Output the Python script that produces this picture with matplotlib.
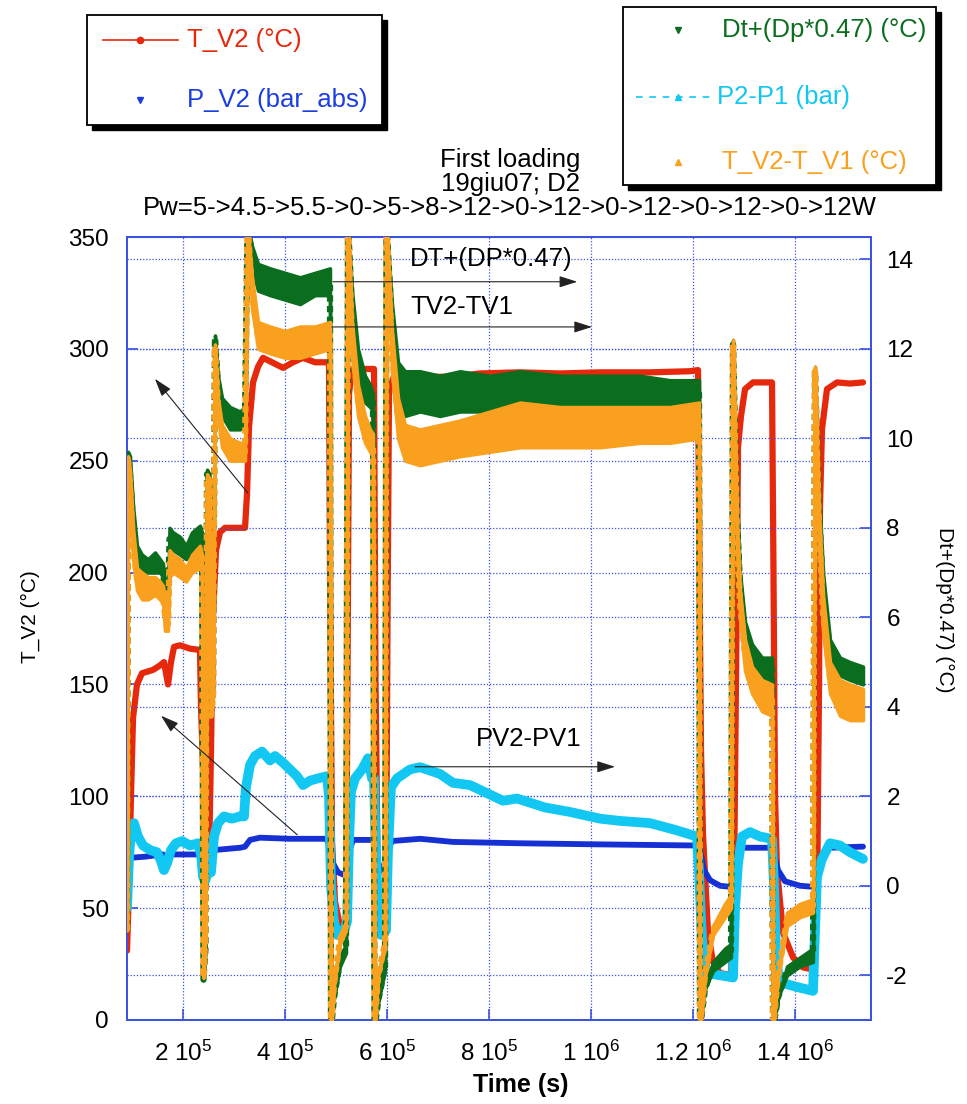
import numpy as np
import matplotlib
matplotlib.use("Agg")
import matplotlib.pyplot as plt
from matplotlib.lines import Line2D
from matplotlib.patches import Rectangle

plt.rcParams["font.family"] = ["Liberation Sans", "DejaVu Sans"]
plt.rcParams["mathtext.fontset"] = "custom"
plt.rcParams["mathtext.rm"] = "Liberation Sans"
plt.rcParams["mathtext.it"] = "Liberation Sans:italic"
plt.rcParams["axes.unicode_minus"] = False

# ── colours ───────────────────────────────────────────────────────────────────
C_RED    = "#e6280c"
C_BLUE   = "#1630d4"
C_GREEN  = "#0b6e1f"
C_CYAN   = "#12c8f2"
C_ORANGE = "#f9a11f"
C_GRID   = "#3c52e0"

FS = 18.5  # text size for titles, legend, notes

# ── data (time in 1e5 s) ──────────────────────────────────────────────────────
# T_V2 (°C), left axis
t_red = [0.902, 0.941, 0.980, 1.020, 1.098, 1.196, 1.412, 1.549, 1.627, 1.667,
         1.706, 1.765, 1.824, 1.941, 2.137, 2.333, 2.353, 2.412, 2.471, 2.510,
         2.549, 2.588, 2.647, 2.725, 2.824, 3.216, 3.255, 3.294, 3.373, 3.471,
         3.569, 3.745, 3.961, 4.157, 4.353, 4.588, 4.863, 4.882, 4.922, 4.980,
         5.078, 5.196, 5.225, 5.255, 5.314, 5.745, 5.775, 5.824, 5.902, 5.980,
         6.010, 6.039, 6.157, 6.314, 6.843, 7.294, 7.824, 8.608, 9.392, 10.176,
         11.157, 11.941, 12.098, 12.127, 12.157, 12.196, 12.294, 12.392, 12.529, 12.745,
         12.804, 12.863, 12.882, 12.941, 13.020, 13.176, 13.549, 13.578, 13.608, 13.647,
         13.765, 13.961, 14.157, 14.373, 14.431, 14.471, 14.490, 14.529, 14.627, 14.824,
         15.078, 15.333]
T_V2 = [31, 60, 100, 135, 150, 155, 156.5, 158.5, 160, 155,
        150, 160, 166.8, 167.5, 166, 165.4, 140, 100, 72, 72,
        120, 180, 210, 218, 220, 220, 235, 265, 285, 292,
        296, 294, 291.5, 294, 296, 294, 294, 200, 80, 53,
        42, 40, 150, 280, 291, 291, 150, 55, 45, 44,
        180, 280, 289.5, 289, 287.5, 287.5, 289, 289.5, 289, 289.5,
        289.5, 290, 290.5, 200, 120, 83, 39, 26, 21, 20,
        60, 200, 256, 270, 282, 285, 285, 200, 100, 67,
        39, 28, 23.5, 22.5, 50, 150, 230, 264, 282, 285,
        284.5, 285]

# P_V2 (bar_abs), left axis
t_blue = [0.902, 0.961, 1.255, 1.608, 1.686, 1.784, 2.333, 2.412, 2.471, 2.549,
          2.627, 3.118, 3.216, 3.314, 3.510, 4.098, 4.804, 4.882, 4.941, 5.039,
          5.196, 5.255, 5.333, 5.745, 5.804, 5.882, 5.980, 6.020, 6.098, 6.647,
          7.294, 8.608, 10.176, 12.078, 12.137, 12.216, 12.333, 12.529, 12.745, 12.804,
          12.863, 12.961, 13.549, 13.588, 13.667, 13.804, 14.098, 14.373, 14.431, 14.529,
          14.686, 15.333]
P_V2 = [60, 72.5, 73, 74, 72, 74, 74, 73, 68, 70,
        76, 77, 77.5, 80.5, 81.5, 81, 81, 78, 70, 66,
        64.5, 75, 80.5, 80.5, 72, 67, 66, 76, 80, 81,
        79.6, 79, 78.5, 78, 76, 67, 62.5, 60, 59.5, 66,
        73, 77, 77, 74, 67, 62, 60, 59.5, 67, 74,
        77, 77.5]

# P2-P1 (bar), right axis
t_cyan = [0.902, 0.941, 0.980, 1.039, 1.118, 1.216, 1.353, 1.490, 1.569, 1.627,
          1.686, 1.765, 1.863, 1.980, 2.137, 2.294, 2.353, 2.392, 2.431, 2.490,
          2.549, 2.608, 2.686, 2.804, 2.961, 3.118, 3.196, 3.235, 3.314, 3.412,
          3.549, 3.706, 3.804, 3.961, 4.098, 4.235, 4.353, 4.490, 4.647, 4.824,
          4.863, 4.902, 4.961, 5.020, 5.176, 5.216, 5.255, 5.294, 5.373, 5.510,
          5.627, 5.706, 5.745, 5.775, 5.824, 5.882, 5.980, 6.020, 6.078, 6.196,
          6.451, 6.647, 7.039, 7.294, 7.627, 8.275, 8.549, 9.098, 9.588, 10.176,
          10.569, 11.157, 11.647, 12.078, 12.118, 12.176, 12.255, 12.529, 12.784, 12.824,
          12.882, 12.961, 13.118, 13.314, 13.549, 13.588, 13.627, 13.686, 14.000, 14.353,
          14.392, 14.431, 14.529, 14.686, 14.882, 15.078, 15.333]
P2_P1 = [-0.5, 0.6, 1.25, 1.4, 1.1, 0.9, 0.8, 0.75, 0.55, 0.35,
         0.5, 0.8, 0.95, 1.0, 0.9, 0.95, 0.7, 0.2, 0.1, 0.3,
         0.3, 1.1, 1.4, 1.55, 1.5, 1.55, 1.55, 2.2, 2.7, 2.9,
         3.0, 2.8, 2.9, 2.75, 2.6, 2.45, 2.25, 2.35, 2.4, 2.45,
         2.0, 0.0, -0.8, -1.1, -0.95, -0.8, 1.0, 2.1, 2.4, 2.6,
         2.85, 2.4, 2.4, 1.0, -0.5, -1.1, -1.0, 0.8, 2.2, 2.4,
         2.6, 2.65, 2.5, 2.3, 2.25, 1.9, 1.95, 1.75, 1.65, 1.5,
         1.45, 1.4, 1.25, 1.1, 0.3, -1.2, -1.95, -2.0, -2.05, -0.5,
         0.5, 1.1, 1.2, 1.1, 1.05, 0.0, -1.5, -2.15, -2.25, -2.35,
         -1.0, 0.2, 0.6, 0.95, 0.9, 0.75, 0.6]

# Dt+(Dp*0.47) (°C) and T_V2-T_V1 (°C), right axis, noise band low / high
t_band = [0.902, 0.922, 0.961, 1.020, 1.098, 1.196, 1.314, 1.451, 1.549, 1.608,
          1.647, 1.706, 1.735, 1.804, 1.941, 2.059, 2.176, 2.333, 2.373, 2.402,
          2.441, 2.471, 2.520, 2.549, 2.588, 2.627, 2.686, 2.765, 2.922, 3.118,
          3.216, 3.265, 3.353, 3.471, 3.706, 4.000, 4.294, 4.588, 4.882, 4.902,
          4.961, 5.078, 5.196, 5.235, 5.314, 5.431, 5.569, 5.667, 5.725, 5.755,
          5.824, 5.961, 5.990, 6.098, 6.216, 6.353, 6.647, 7.039, 7.431, 8.020,
          8.608, 9.392, 10.176, 10.961, 11.549, 12.118, 12.137, 12.235, 12.392, 12.627,
          12.745, 12.784, 12.863, 12.922, 13.020, 13.157, 13.353, 13.549, 13.569, 13.667,
          13.843, 14.098, 14.353, 14.392, 14.471, 14.549, 14.686, 14.882, 15.078, 15.333]
dt_lo = [-1.0, 9.5, 8.8, 7.8, 7.1, 7.0, 7.0, 7.0, 7.0, 6.9,
         6.2, 6.2, 7.5, 7.5, 7.4, 7.3, 7.5, 7.7, 7.6, -2.1,
         -1.4, 9.1, 8.9, 4.0, 4.3, 12.2, 11.0, 10.5, 10.2, 10.2,
         10.3, 14.8, 13.8, 13.3, 13.2, 13.1, 13.0, 13.2, 13.2, -3.2,
         -2.5, -1.8, -1.5, 14.8, 12.5, 11.3, 10.8, 10.7, 10.6, -3.2,
         -2.6, -1.9, 14.8, 12.0, 10.8, 10.5, 10.6, 10.5, 10.6, 10.6,
         10.7, 10.7, 10.6, 10.7, 10.7, 10.7, -3.2, -2.3, -1.9, -1.7,
         -1.6, 12.0, 8.0, 6.4, 5.2, 4.9, 4.6, 4.6, -3.2, -2.5,
         -2.0, -1.8, -1.7, 11.4, 8.0, 6.2, 5.0, 4.7, 4.6, 4.5]
dt_hi = [-1.0, 9.7, 9.6, 8.5, 7.6, 7.4, 7.3, 7.45, 7.3, 7.2,
         6.8, 6.5, 8.0, 7.9, 7.8, 7.6, 7.9, 8.05, 7.9, -2.1,
         -1.4, 9.3, 9.2, 4.0, 4.3, 12.3, 11.4, 10.9, 10.7, 10.6,
         10.7, 14.8, 14.3, 13.9, 13.8, 13.7, 13.6, 13.7, 13.8, -3.2,
         -2.5, -1.6, -1.3, 14.8, 13.3, 12.0, 11.4, 11.2, 11.0, -3.2,
         -2.6, -1.7, 14.8, 13.0, 11.7, 11.5, 11.5, 11.4, 11.5, 11.4,
         11.5, 11.4, 11.4, 11.4, 11.3, 11.3, -3.2, -2.3, -1.7, -1.4,
         -1.3, 12.2, 8.5, 7.0, 5.9, 5.4, 5.1, 5.1, -3.2, -2.5,
         -1.8, -1.6, -1.4, 11.6, 8.8, 7.0, 5.5, 5.1, 5.0, 4.9]
tv_lo = [-1.0, 9.4, 8.5, 7.3, 6.6, 6.4, 6.4, 6.5, 6.4, 6.3,
         5.7, 5.7, 6.9, 7.0, 6.9, 6.8, 7.0, 7.1, 7.0, -2.05,
         -1.0, 9.0, 8.8, 3.8, 4.2, 12.0, 10.5, 9.8, 9.5, 9.5,
         9.5, 14.8, 12.9, 12.0, 11.9, 11.8, 11.8, 11.9, 12.0, -3.2,
         -2.2, -1.3, -1.0, 14.8, 11.8, 10.5, 9.9, 9.7, 9.6, -3.2,
         -2.0, -1.4, 14.8, 11.5, 10.0, 9.5, 9.4, 9.5, 9.6, 9.7,
         9.8, 9.8, 9.8, 9.9, 9.9, 10.0, -3.2, -2.0, -1.1, -0.7,
         -0.5, 12.0, 7.5, 6.0, 4.8, 4.3, 3.9, 3.8, -3.2, -2.0,
         -0.9, -0.7, -0.6, 11.4, 7.6, 5.7, 4.3, 3.8, 3.7, 3.7]
tv_hi = [-1.0, 9.6, 9.3, 8.0, 7.1, 7.0, 6.9, 6.9, 6.8, 6.7,
         6.4, 6.0, 7.5, 7.4, 7.3, 7.1, 7.4, 7.6, 7.4, -2.05,
         -1.0, 9.2, 9.1, 3.8, 4.2, 12.1, 10.9, 10.3, 10.0, 9.9,
         9.9, 14.8, 13.6, 12.6, 12.5, 12.4, 12.5, 12.5, 12.6, -3.2,
         -2.2, -1.1, -0.8, 14.8, 12.6, 11.2, 10.5, 10.2, 10.1, -3.2,
         -2.0, -1.2, 14.8, 12.4, 10.9, 10.3, 10.2, 10.3, 10.4, 10.6,
         10.8, 10.7, 10.7, 10.7, 10.7, 10.8, -3.2, -2.0, -0.9, -0.4,
         -0.2, 12.2, 8.1, 6.6, 5.5, 4.9, 4.6, 4.5, -3.2, -2.0,
         -0.6, -0.4, -0.3, 11.6, 8.4, 6.5, 5.0, 4.6, 4.5, 4.4]

x_ticks = [2e5, 4e5, 6e5, 8e5, 1e6, 1.2e6, 1.4e6]
x_ticklabels = [r"2 10$^{5}$", r"4 10$^{5}$", r"6 10$^{5}$", r"8 10$^{5}$",
                r"1 10$^{6}$", r"1.2 10$^{6}$", r"1.4 10$^{6}$"]
left_ticks = [0, 50, 100, 150, 200, 250, 300, 350]
right_ticks = [-2, 0, 2, 4, 6, 8, 10, 12, 14]

TITLE = ["First loading", "19giu07; D2",
         "Pw=5->4.5->5.5->0->5->8->12->0->12->0->12->0->12->0->12W"]

# ── figure ────────────────────────────────────────────────────────────────────
W, H = 967, 1104
fig = plt.figure(figsize=(W / 100, H / 100), dpi=100)
fig.patch.set_facecolor("white")


def fx(px):
    return px / W


def fy(py):
    return 1 - py / H


ax = fig.add_axes([fx(127), fy(1020), fx(871) - fx(127), fy(237) - fy(1020)])
ax2 = ax.twinx()

t_scale = 1e5
tr = np.array(t_red) * t_scale
tb = np.array(t_blue) * t_scale
tc = np.array(t_cyan) * t_scale
tband = np.array(t_band) * t_scale

ax.plot(tr, T_V2, color=C_RED, lw=4.5, solid_capstyle="round", zorder=3)
ax.plot(tb, P_V2, color=C_BLUE, lw=4.2, solid_capstyle="round", zorder=3)

ax2.plot(tc, P2_P1, color=C_CYAN, lw=7, solid_capstyle="round", zorder=3)

for lo, hi, col, z in [(dt_lo, dt_hi, C_GREEN, 4), (tv_lo, tv_hi, C_ORANGE, 5)]:
    lo = np.array(lo)
    hi = np.array(hi)
    ax2.fill_between(tband, lo, hi, color=col, lw=2.5, edgecolor=col, zorder=z)
    ax2.plot(tband, (lo + hi) / 2, color=col, lw=4.5, ls=(0, (1.0, 0.7)), zorder=z)

# axes ranges / ticks
ax.set_xlim(0.902e5, 1.549e6)
ax.set_ylim(0, 350)
ax2.set_ylim(-3, 14.5)

ax.set_xticks(x_ticks)
ax.set_xticklabels(x_ticklabels)
ax.set_yticks(left_ticks)
ax2.set_yticks(right_ticks)

for a in (ax, ax2):
    a.tick_params(direction="in", length=8, width=1.2, color=C_GRID,
                  labelsize=17.5, pad=13)
    for sp in a.spines.values():
        sp.set_color(C_GRID)
        sp.set_linewidth(1.3)
ax2.tick_params(pad=11)
ax.tick_params(axis="x", pad=15)

ax.grid(True, color=C_GRID, ls=(0, (1, 1.5)), lw=0.9)
ax2.grid(True, axis="y", color=C_GRID, ls=(0, (1, 1.5)), lw=0.9)
ax.set_axisbelow(True)
ax2.patch.set_visible(False)

ax.set_ylabel("T_V2 (°C)", fontsize=15, va="center")
ax.yaxis.set_label_coords(-0.130, 0.515)
ax2.set_ylabel("Dt+(Dp*0.47) (°C)", fontsize=15, rotation=270, va="center")
ax2.yaxis.set_label_coords(1.0995, 0.524)
fig.text(fx(521), fy(1085), "Time (s)", fontsize=18, fontweight="bold",
         ha="center", va="center")

# title block
for py, line in zip([160, 184, 208], TITLE):
    fig.text(fx(510), fy(py), line, fontsize=FS, ha="center", va="center")

# ── annotations (right-axis coordinates) ─────────────────────────────────────
arrow_kw = dict(arrowstyle="-|>,head_length=1.1,head_width=0.35",
                color="#222222", lw=0.8, shrinkA=0, shrinkB=0)
ax2.text(6.45e5, 14.0, "DT+(DP*0.47)", fontsize=FS, va="center", zorder=8)
ax2.annotate("", xy=(9.73e5, 13.5), xytext=(4.94e5, 13.5),
             arrowprops=arrow_kw, zorder=8)
ax2.text(6.45e5, 12.94, "TV2-TV1", fontsize=FS, va="center", zorder=8)
ax2.annotate("", xy=(10.02e5, 12.49), xytext=(4.92e5, 12.49),
             arrowprops=arrow_kw, zorder=8)
ax2.annotate("", xy=(1.45e5, 11.33), xytext=(3.27e5, 8.78),
             arrowprops=arrow_kw, zorder=8)
ax2.annotate("", xy=(1.57e5, 3.80), xytext=(4.24e5, 1.14),
             arrowprops=arrow_kw, zorder=8)
ax2.text(7.75e5, 3.28, "PV2-PV1", fontsize=FS, va="center", zorder=8)
ax2.annotate("", xy=(10.47e5, 2.66), xytext=(6.55e5, 2.66),
             arrowprops=arrow_kw, zorder=8)


# ── legends (drawn as boxes with drop shadow) ────────────────────────────────
def legend_box(x0, y0, x1, y1):
    sh = 5
    fig.patches.append(Rectangle((fx(x0 + sh), fy(y1 + sh)), fx(x1) - fx(x0),
                                 fy(y0) - fy(y1), transform=fig.transFigure,
                                 facecolor="black", edgecolor="black", zorder=1))
    fig.patches.append(Rectangle((fx(x0), fy(y1)), fx(x1) - fx(x0),
                                 fy(y0) - fy(y1), transform=fig.transFigure,
                                 facecolor="white", edgecolor="black", lw=1.3,
                                 zorder=2))


def legend_entry(py, mx, tx, label, color, marker, ls=None, lx=None):
    if ls is not None:
        fig.lines.append(Line2D([fx(lx[0]), fx(lx[1])], [fy(py), fy(py)],
                                transform=fig.transFigure, color=color, lw=1.2,
                                ls=ls, zorder=3))
    fig.lines.append(Line2D([fx(mx)], [fy(py)], transform=fig.transFigure,
                            color=color, marker=marker, ms=4.5, ls="none",
                            zorder=3))
    fig.text(fx(tx), fy(py), label, color=color, fontsize=FS, va="center",
             zorder=4)


legend_box(87, 15, 382, 125)
legend_entry(40, 140, 187, "T_V2 (°C)", C_RED, "o", ls="-", lx=(103, 178))
legend_entry(100, 140, 187, "P_V2 (bar_abs)", "#1a3ee0", "v")

legend_box(623, 7, 936, 185)
legend_entry(30, 678, 722, "Dt+(Dp*0.47) (°C)", C_GREEN, "v")
legend_entry(97, 678, 717, "P2-P1 (bar)", C_CYAN, "^", ls=(0, (4, 4)), lx=(636, 716))
legend_entry(162, 678, 722, "T_V2-T_V1 (°C)", C_ORANGE, "^")

fig.savefig("out.png", dpi=100, facecolor="white")
